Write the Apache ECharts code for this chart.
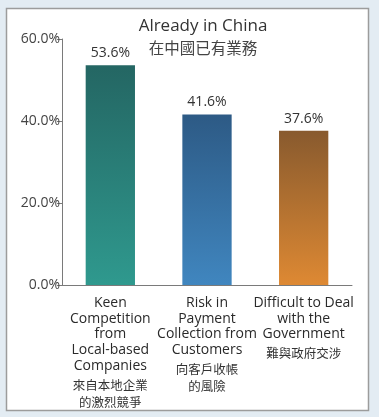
<!DOCTYPE html>
<html>
<head>
<meta charset="utf-8">
<script src="https://cdn.jsdelivr.net/npm/echarts@6/dist/echarts.min.js"></script>
<style>
  html, body { margin: 0; padding: 0; background: #e3ecf3; }
  #chart { width: 379px; height: 417px; }
</style>
</head>
<body>
<div id="chart"></div>
<script>
// Survey results: main difficulties for firms already operating in China
const categoriesEn = [
  'Keen\nCompetition\nfrom\nLocal-based\nCompanies',
  'Risk in\nPayment\nCollection from\nCustomers',
  'Difficult to Deal\nwith the\nGovernment'
];
const categoriesZh = [
  '來自本地企業\n的激烈競爭',
  '向客戶收帳\n的風險',
  '難與政府交涉'
];
const values = [53.6, 41.6, 37.6];
const yTicks = [0, 20, 40, 60];

const barColors = [
  ['#246663', '#2f998e'],
  ['#2d5a85', '#4086bf'],
  ['#885a2e', '#de8933']
];

const FONT = '"Open Sans", "Noto Sans CJK TC", sans-serif';

const chart = echarts.init(document.getElementById('chart'), null, { renderer: 'canvas' });

// Axis label: English lines, a small gap, then the Chinese lines in a smaller size
function labelFor(idx) {
  const en = categoriesEn[idx].split('\n').map(s => '{en|' + s + '}').join('\n');
  const zh = categoriesZh[idx].split('\n').map(s => '{zh|' + s + '}').join('\n');
  return en + '\n{sp| }\n' + zh;
}

chart.setOption({
  animation: false,
  graphic: [
    {
      type: 'rect',
      z: -10,
      shape: { x: 6.5, y: 8.5, width: 362, height: 402 },
      style: { fill: '#ffffff', stroke: '#9c9c9c', lineWidth: 1.5 }
    }
  ],
  title: {
    text: 'Already in China',
    subtext: '在中國已有業務',
    left: 198,
    textAlign: 'center',
    top: 13,
    itemGap: 7,
    textStyle: { fontFamily: FONT, fontSize: 17, fontWeight: 'normal', color: '#333' },
    subtextStyle: { fontFamily: FONT, fontSize: 15.5, color: '#444' }
  },
  grid: { left: 62, right: 27, top: 39, bottom: 132 },
  xAxis: {
    type: 'category',
    data: categoriesEn.map((_, i) => i),
    axisLine: { lineStyle: { color: '#7a7a7a', width: 1 } },
    axisTick: { show: false },
    axisLabel: {
      interval: 0,
      margin: 10,
      formatter: (v, i) => labelFor(i),
      rich: {
        en: { fontFamily: FONT, fontSize: 14, color: '#2a2a2a', lineHeight: 15.7, align: 'center' },
        sp: { fontSize: 1, lineHeight: 4 },
        zh: { fontFamily: FONT, fontSize: 12.5, color: '#333', lineHeight: 17, align: 'center' }
      }
    }
  },
  yAxis: {
    type: 'value',
    min: 0,
    max: 60,
    interval: 20,
    axisLine: { show: true, lineStyle: { color: '#7a7a7a', width: 1 } },
    axisTick: { show: true, length: 5, lineStyle: { color: '#7a7a7a' } },
    splitLine: { show: false },
    axisLabel: {
      margin: 2,
      fontFamily: FONT,
      fontSize: 14,
      color: '#444',
      formatter: v => v.toFixed(1) + '%'
    }
  },
  series: [
    {
      type: 'bar',
      barWidth: '51%',
      data: values.map((v, i) => ({
        value: v,
        itemStyle: {
          color: new echarts.graphic.LinearGradient(0, 0, 0, 1, [
            { offset: 0, color: barColors[i][0] },
            { offset: 1, color: barColors[i][1] }
          ])
        }
      })),
      label: {
        show: true,
        position: 'top',
        distance: 5,
        fontFamily: FONT,
        fontSize: 14,
        color: '#333',
        formatter: p => p.value.toFixed(1) + '%'
      }
    }
  ]
});
</script>
</body>
</html>
